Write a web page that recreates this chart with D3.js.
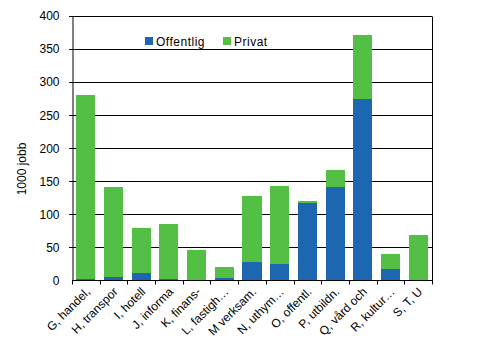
<!DOCTYPE html>
<html><head><meta charset="utf-8">
<script src="https://cdn.jsdelivr.net/npm/d3@7"></script>
<style>body{margin:0;background:#fff}svg{display:block;font-family:"Liberation Sans",Arial,sans-serif}</style>
</head><body><svg id="c" width="498" height="351"></svg>
<script>
const categories = ["G, handel,","H, transpor","I, hotell","J, informa","K, finans-","L, fastigh…","M verksam.","N, uthym…","O, offentl.","P, utbildn.","Q, vård och","R, kultur…","S, T, U"];
const offentlig = [2,5,11,2,0.5,3.5,28,25,117,141,275,17,0];
const privat    = [279,136,68,83,45.5,16.5,100,118,3,26,97,23,69];
const yTicks = [0,50,100,150,200,250,300,350,400];
const seriesNames = ["Offentlig","Privat"];
const colors = ["#1c67b0","#53c045"];

const svg = d3.select("#c");
const L=72, R=432, T=16, B=280.5;
const x = d3.scaleBand().domain(categories).range([L,R]).paddingInner(0.31).paddingOuter(0.155);
const y = d3.scaleLinear().domain([0,400]).range([B,T]);
const py = v => Math.round(y(v)) + 0.5;

// gridlines
svg.append("g").selectAll("line").data(yTicks.filter(d=>d>0)).join("line")
  .attr("x1",L-3).attr("x2",R).attr("y1",d=>py(d)).attr("y2",d=>py(d))
  .attr("stroke","#000").attr("stroke-width",1);

const data = categories.map((c,i)=>({c, Offentlig:offentlig[i], Privat:privat[i]}));
const stack = d3.stack().keys(seriesNames)(data);
svg.append("g").selectAll("g").data(stack).join("g").attr("fill",(d,i)=>colors[i])
  .selectAll("rect").data(d=>d).join("rect")
  .attr("x",d=>x(d.data.c)).attr("width",x.bandwidth())
  .attr("y",d=>y(d[1])).attr("height",d=>y(d[0])-y(d[1]))
  .attr("shape-rendering","crispEdges");

// frame
svg.append("line").attr("x1",R+0.5).attr("x2",R+0.5).attr("y1",py(400)).attr("y2",B).attr("stroke","#000").attr("stroke-width",1);

// y axis
const ya = svg.append("g").attr("transform",`translate(${L+0.5},0)`)
  .call(d3.axisLeft(y).tickValues(yTicks).tickSize(0).tickPadding(13));
ya.select(".domain").attr("stroke","#000").attr("stroke-width",1);
ya.selectAll("text").attr("font-size",12).attr("fill","#000").attr("font-family","Liberation Sans, Arial, sans-serif");

// x axis with ticks at category boundaries
const xa = svg.append("g").attr("transform",`translate(0,${B})`);
xa.append("line").attr("x1",L).attr("x2",R+1).attr("stroke","#000").attr("stroke-width",1.5).attr("shape-rendering","crispEdges");
const bounds = d3.range(categories.length+1).map(i=>Math.round(L+i*(R-L)/categories.length)+0.5);
xa.selectAll("line.t").data(bounds).join("line").attr("class","t")
  .attr("x1",d=>d).attr("x2",d=>d).attr("y1",0).attr("y2",4).attr("stroke","#000").attr("stroke-width",1);
xa.selectAll("text").data(categories).join("text")
  .attr("transform",d=>`translate(${x(d)+x.bandwidth()/2+5},${12}) rotate(-45)`)
  .attr("text-anchor","end").attr("font-size",12).attr("fill","#000").text(d=>d);

// y label
svg.append("text").attr("transform","translate(26,169) rotate(-90)").attr("text-anchor","middle")
  .attr("font-size",12).attr("fill","#000").text("1000 jobb");

// legend
const lg = svg.append("g");
const lx=[145,223];
seriesNames.forEach((n,i)=>{
  lg.append("rect").attr("x",lx[i]).attr("y",37).attr("width",8).attr("height",8).attr("fill",colors[i]);
  lg.append("text").attr("x",lx[i]+11).attr("y",45.5).attr("font-size",12).attr("letter-spacing",0.5).attr("fill","#000").text(n);
});
</script></body></html>
